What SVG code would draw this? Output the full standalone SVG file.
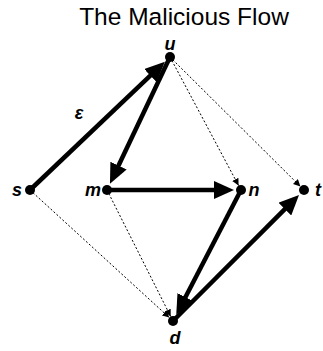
<svg xmlns="http://www.w3.org/2000/svg" width="323" height="351" viewBox="0 0 323 351">
<style>
.thick{stroke:#000;stroke-width:4.5;fill:none;marker-end:url(#big)}
.dot{stroke:#000;stroke-width:1;stroke-dasharray:2,2;fill:none;marker-end:url(#small)}
.lbl{font-family:"Liberation Sans",Arial,sans-serif;font-weight:bold;font-style:italic;font-size:18px;fill:#000}
.title{font-family:"Liberation Sans",Arial,sans-serif;font-size:24.5px;fill:#000}
</style>
<defs>
<marker id="big" markerUnits="userSpaceOnUse" viewBox="0 -9 20 18" markerWidth="20" markerHeight="18" refX="1" refY="0" orient="auto">
<path d="M0,-9 L20,0 L0,9 z" fill="#000"/>
</marker>
<marker id="small" markerUnits="userSpaceOnUse" viewBox="0 -3.5 7 7" markerWidth="7" markerHeight="7" refX="7" refY="0" orient="auto">
<path d="M0,-3.5 L7,0 L0,3.5 z" fill="#000"/>
</marker>
</defs>
<rect width="323" height="351" fill="#fff"/>
<text class="title" x="184" y="25" text-anchor="middle">The Malicious Flow</text>
<g id="connectors">
<path class="dot" d="M170,57 L238.6,185.6"/>
<path class="dot" d="M170,57 L300.4,186.5"/>
<path class="dot" d="M30,190 L169.3,317.6"/>
<path class="dot" d="M107,190 L170.7,316.5"/>
<path class="thick" d="M30,190 L151.1,74.9"/>
<path class="thick" d="M170,57 L118.1,166.5"/>
<path class="thick" d="M107,190 L215,190"/>
<path class="thick" d="M241,190 L185,298"/>
<path class="thick" d="M173,321 L285.6,208.4"/>
<text class="lbl" x="79" y="119" text-anchor="middle" font-size="20">ε</text>
</g>
<g id="u"><circle cx="170" cy="57" r="5"/><text class="lbl" x="170" y="50" text-anchor="middle">u</text></g>
<g id="s"><circle cx="30" cy="190" r="5"/><text class="lbl" x="17" y="196" text-anchor="middle">s</text></g>
<g id="m"><circle cx="107" cy="190" r="5"/><text class="lbl" x="93" y="196" text-anchor="middle">m</text></g>
<g id="n"><circle cx="241" cy="190" r="5"/><text class="lbl" x="254" y="196" text-anchor="middle">n</text></g>
<g id="t"><circle cx="304" cy="190" r="5"/><text class="lbl" x="318" y="196" text-anchor="middle">t</text></g>
<g id="d"><circle cx="173" cy="321" r="5"/><text class="lbl" x="175" y="344" text-anchor="middle">d</text></g>
</svg>
